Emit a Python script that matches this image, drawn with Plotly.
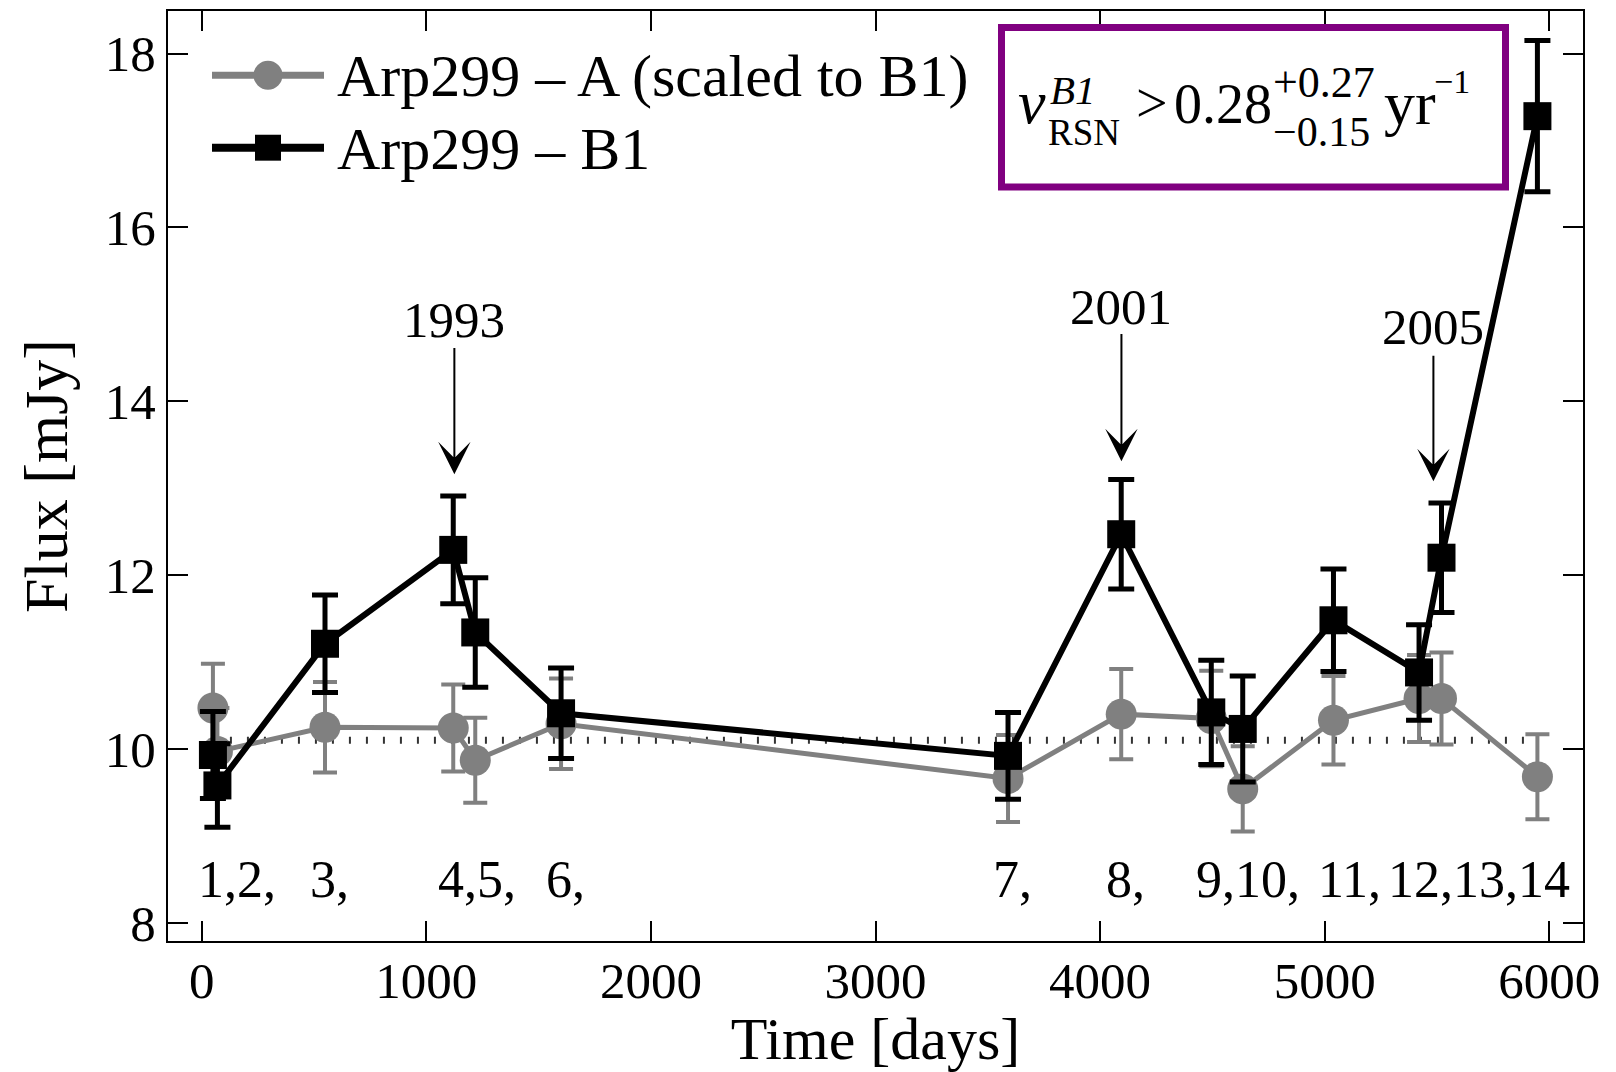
import plotly.graph_objects as go

# ---------------- data ----------------
days = [50, 70, 549, 1120, 1218, 1600, 3590, 4094, 4495, 4635, 5039, 5420, 5520, 5947]
flux_a = [10.47, 9.97, 10.25, 10.24, 9.87, 10.29, 9.66, 10.40, 10.35, 9.54, 10.33, 10.58, 10.58, 9.68]
err_a = [0.51, 0.50, 0.52, 0.50, 0.49, 0.52, 0.50, 0.52, 0.55, 0.49, 0.51, 0.50, 0.53, 0.49]
flux_b1 = [9.93, 9.58, 11.21, 12.29, 11.34, 10.41, 9.92, 12.47, 10.42, 10.23, 11.48, 10.88, 12.20, 17.28]
err_b1 = [0.50, 0.48, 0.56, 0.62, 0.63, 0.52, 0.50, 0.63, 0.60, 0.61, 0.59, 0.55, 0.63, 0.87]
mean_level = 10.1

epoch_labels = ["1,2,", "3,", "4,5,", "6,", "7,", "8,", "9,10,", "11,", "12,13,14"]
epoch_label_index = [0, 2, 3, 5, 6, 7, 8, 10, 11]

event_years = ["1993", "2001", "2005"]
event_days = [1125, 4095, 5484]

x_ticks = [0, 1000, 2000, 3000, 4000, 5000, 6000]
y_ticks = [8, 10, 12, 14, 16, 18]

# ---------------- layout geometry ----------------
W, H = 1616, 1072
L, R, T, B = 168, 1583, 9, 941
FONT = "Liberation Serif, Times New Roman, serif"


def px(x):
    return (x - L) / (R - L)


def py(y):
    return (B - y) / (B - T)


fig = go.Figure()

# dotted reference level
fig.add_trace(go.Scatter(
    x=[days[0], days[-1]], y=[mean_level, mean_level], mode="lines",
    line=dict(color="#333333", width=7, dash="2px,15px"), showlegend=False, hoverinfo="skip"))

fig.add_trace(go.Scatter(
    x=days, y=flux_a, mode="lines+markers", name="Arp299 – A (scaled to B1)",
    line=dict(color="#808080", width=5),
    marker=dict(symbol="circle", size=31, color="#808080"),
    error_y=dict(type="data", array=err_a, color="#808080", thickness=4, width=12),
    showlegend=False))

fig.add_trace(go.Scatter(
    x=days, y=flux_b1, mode="lines+markers", name="Arp299 – B1",
    line=dict(color="#000000", width=6),
    marker=dict(symbol="square", size=28, color="#000000"),
    error_y=dict(type="data", array=err_b1, color="#000000", thickness=5, width=13),
    showlegend=False))

annotations = []
shapes = []

# epoch index labels
label_y = 8.5
for i, (txt, idx) in enumerate(zip(epoch_labels, epoch_label_index)):
    shift = -33 if i == len(epoch_labels) - 1 else -17
    annotations.append(dict(x=days[idx], y=label_y, xref="x", yref="y", text=txt,
                            showarrow=False, xanchor="left", yanchor="middle", xshift=shift,
                            font=dict(family=FONT, size=52, color="black")))

# event arrows
tip_y = [13.16, 13.31, 13.08]
tail_y = [14.63, 14.79, 14.54]
text_y = [14.94, 15.09, 14.86]
for yr, d, ty, tl, tx in zip(event_years, event_days, tip_y, tail_y, text_y):
    annotations.append(dict(x=d, y=ty, ax=d, ay=tl, xref="x", yref="y", axref="x", ayref="y",
                            text="", showarrow=True, arrowhead=3, arrowsize=2.7, arrowwidth=2,
                            arrowcolor="black"))
    annotations.append(dict(x=d, y=tx, xref="x", yref="y", text=yr, showarrow=False,
                            xanchor="center", yanchor="middle",
                            font=dict(family=FONT, size=51, color="black")))

# manual legend
leg_items = [
    ("Arp299 – A (scaled to B1)", "#808080", 7, "circle", 29, 73.3),
    ("Arp299 – B1", "#000000", 8, "square", 26, 146.0),
]
for name, col, lw, sym, sz, yc in leg_items:
    shapes.append(dict(type="line", xref="paper", yref="paper",
                       x0=px(212), x1=px(324), y0=py(yc), y1=py(yc),
                       line=dict(color=col, width=lw)))
    shapes.append(dict(type="circle" if sym == "circle" else "rect", xref="paper", yref="paper",
                       x0=px(268 - sz / 2), x1=px(268 + sz / 2),
                       y0=py(yc + sz / 2), y1=py(yc - sz / 2),
                       fillcolor=col, line=dict(color=col, width=0)))
    annotations.append(dict(x=px(335), y=py(yc + 1), xref="paper", yref="paper", text=name,
                            showarrow=False, xanchor="left", yanchor="middle",
                            font=dict(family=FONT, size=60, color="black")))

# formula box
shapes.append(dict(type="rect", xref="paper", yref="paper",
                   x0=px(1001.5), x1=px(1505.5), y0=py(185.5), y1=py(25.5),
                   fillcolor="white", line=dict(color="#800080", width=7), layer="above"))
formula_parts = [
    ("<i>v</i>", 62, 1016, 99.8),
    ("<i>B1</i>", 41, 1048, 88.2),
    ("RSN", 37, 1046, 131.2),
    (">", 56, 1134, 101.5),
    ("0.28", 56, 1172, 101.8),
    ("+0.27", 44, 1271, 80.8),
    ("−0.15", 42, 1271, 129.8),
    ("yr", 62, 1382, 101.4),
    ("−1", 34, 1432, 79.2),
]
for txt, fs, xl, yc in formula_parts:
    annotations.append(dict(x=px(xl), y=py(yc), xref="paper", yref="paper", text=txt,
                            showarrow=False, xanchor="left", yanchor="middle",
                            font=dict(family=FONT, size=fs, color="black")))

axis_common = dict(showline=True, linewidth=2, linecolor="black", mirror="allticks",
                   ticks="inside", ticklen=20, tickwidth=2, tickcolor="black",
                   showgrid=False, zeroline=False,
                   tickfont=dict(family=FONT, size=51, color="black"))

fig.update_layout(
    width=W, height=H,
    margin=dict(l=L, r=W - R, t=T, b=H - B),
    paper_bgcolor="white", plot_bgcolor="white",
    font=dict(family=FONT, color="black"),
    shapes=shapes, annotations=annotations,
    xaxis=dict(range=[-150, 6150], tickvals=x_ticks, ticklabelstandoff=-6,
               title=dict(text="Time [days]", font=dict(family=FONT, size=60), standoff=10),
               **axis_common),
    yaxis=dict(range=[7.79, 18.49], tickvals=y_ticks,
               title=dict(text="Flux [mJy]", font=dict(family=FONT, size=62), standoff=17),
               **axis_common),
)

fig.write_html("out.html", config={"displayModeBar": False},
               post_script="document.body.style.margin='0';")
